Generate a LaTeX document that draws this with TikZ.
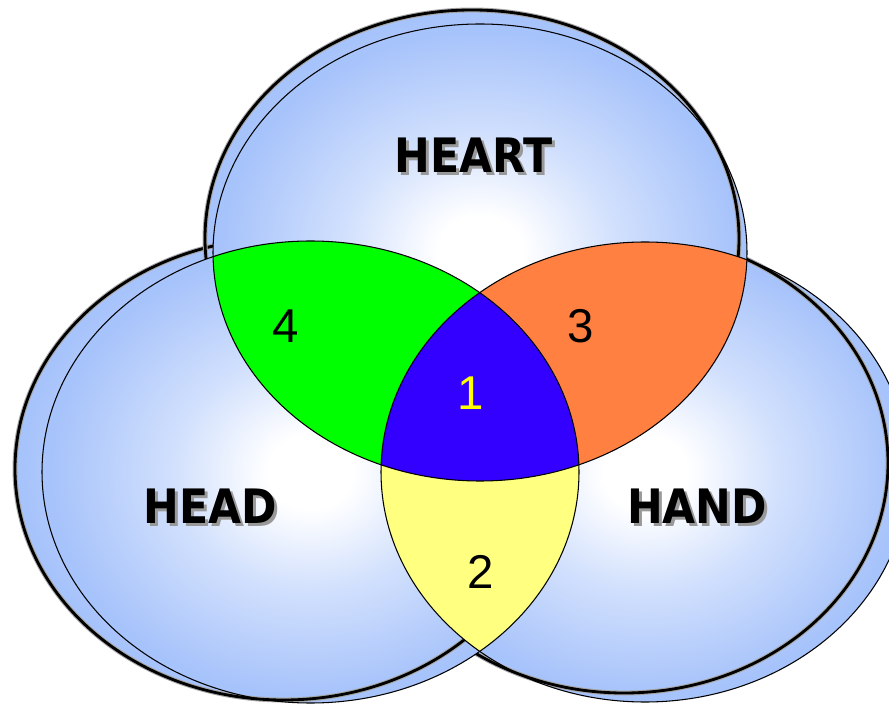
\documentclass[tikz,border=0pt]{standalone}
\usepackage{fontspec}
\setmainfont{Liberation Sans}
\newfontfamily\namefont{DejaVu Sans}
\usepackage{xcolor}
\definecolor{vennblue}{RGB}{152,185,250}
\definecolor{venngreen}{RGB}{0,255,0}
\definecolor{vennorange}{RGB}{255,128,64}
\definecolor{vennpurple}{RGB}{51,0,255}
\definecolor{vennyellow}{RGB}{255,255,128}
\definecolor{onepen}{RGB}{255,255,0}
\usepackage{tikz}

\pgfdeclareradialshading{vennglow}{\pgfpointorigin}{color(0bp)=(white); color(4bp)=(white); color(13bp)=(vennblue!45!white); color(24bp)=(vennblue!85!white); color(34bp)=(vennblue); color(100bp)=(vennblue)}

% outer rims (thick) and sets (thin), in pixel units
\def\heartrim{(472,238.5) ellipse [x radius=267, y radius=228.5]}
\def\heartset{(480,252.5) ellipse [x radius=267, y radius=228.5]}
\def\headrim{(283.5,469) ellipse [x radius=268.5, y radius=231]}
\def\headset{(310.5,472) ellipse [x radius=268.5, y radius=231]}
\def\handrim{(624,463) ellipse [x radius=264, y radius=230]}
\def\handset{(645,472) ellipse [x radius=264, y radius=230]}
\def\wholepage{(-50,-50) rectangle (950,760)}

\begin{document}
\begin{tikzpicture}[x=0.02cm, y=-0.02cm,
  rimhalo/.style={draw=black!35, line width=2.8pt},
  rimline/.style={draw=black, line width=1.6pt},
  setline/.style={draw=black, line width=0.6pt},
  setname/.style={font=\namefont\bfseries\fontsize{27}{30}\selectfont, anchor=base, xscale=0.9},
  setshadow/.style={setname, text=black!40},
  regionnum/.style={font=\fontsize{27}{30}\selectfont, anchor=base}]
  \useasboundingbox (0,0) rectangle (889,705);
  \clip (0,0) rectangle (889,705);

  % --- Fills ---
  \shade[shading=vennglow] \headrim;
  \shade[shading=vennglow] \heartrim;
  \shade[shading=vennglow] \handrim;
  \shade[shading=vennglow] \headset;
  \shade[shading=vennglow] \heartset;
  \shade[shading=vennglow] \handset;

  % --- Thick rims ---
  \begin{scope}[even odd rule]
    \clip \wholepage \heartset;
    \clip \wholepage \handset;
    \draw[rimhalo] \headrim;
    \draw[rimline] \headrim;
  \end{scope}
  \begin{scope}[even odd rule]
    \clip \wholepage \headset;
    \clip \wholepage \handset;
    \draw[rimhalo] \heartrim;
    \draw[rimline] \heartrim;
  \end{scope}
  \begin{scope}[even odd rule]
    \clip \wholepage \headset;
    \clip \wholepage \heartset;
    \draw[rimhalo] \handrim;
    \draw[rimline] \handrim;
  \end{scope}

  % --- Overlaps ---
  \begin{scope}
    \clip \heartset;
    \fill[venngreen] \headset;
    \fill[vennorange] \handset;
  \end{scope}
  \begin{scope}
    \clip \headset;
    \fill[vennyellow] \handset;
  \end{scope}
  \begin{scope}
    \clip \heartset;
    \clip \headset;
    \fill[vennpurple] \handset;
  \end{scope}

  % --- Thin outlines ---
  \draw[setline] \headset;
  \draw[setline] \heartset;
  \draw[setline] \handset;

  % --- Set names ---
  \node[setshadow] (heart-shadow) at (477,176) {HEART};
  \node[setname] (heart) at (474,173) {HEART};
  \node[setshadow] (head-shadow) at (213,526) {HEAD};
  \node[setname] (head) at (210,523) {HEAD};
  \node[setshadow] (hand-shadow) at (700,526) {HAND};
  \node[setname] (hand) at (697,523) {HAND};

  % --- Region numbers ---
  \node[regionnum, text=onepen] (one) at (471,410) {1};
  \node[regionnum] (two) at (481,588) {2};
  \node[regionnum] (three) at (581,343) {3};
  \node[regionnum] (four) at (286,343) {4};
\end{tikzpicture}
\end{document}
